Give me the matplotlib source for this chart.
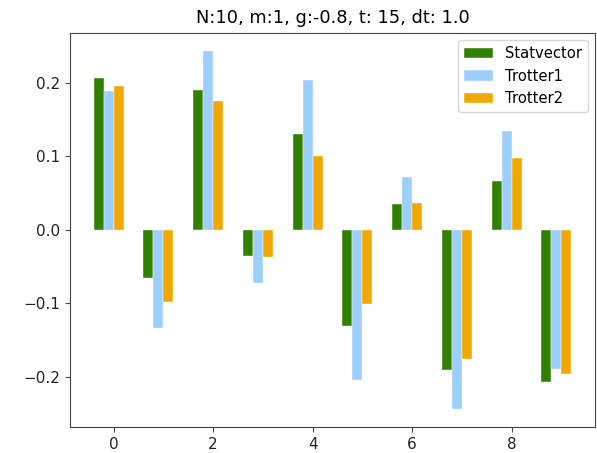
import matplotlib
matplotlib.use('Agg')
import matplotlib.pyplot as plt
import numpy as np

sites = np.arange(10)
statvector = [0.2065, -0.0663, 0.1906, -0.0355, 0.1306, -0.1314, 0.035, -0.191, 0.066, -0.2074]
trotter1 = [0.189, -0.1345, 0.2437, -0.0727, 0.204, -0.205, 0.0723, -0.2446, 0.134, -0.190]
trotter2 = [0.1965, -0.098, 0.175, -0.037, 0.100, -0.101, 0.036, -0.1755, 0.098, -0.197]

COLORS = {
    'Statvector': '#318000',
    'Trotter1': '#9dcffc',
    'Trotter2': '#f0a800',
}

width = 0.2
fig = plt.figure(figsize=(5.97, 4.53), dpi=100)
ax = fig.add_axes([0.117, 0.057, 0.880, 0.870])
ax.bar(sites - 0.3, statvector, width, color=COLORS['Statvector'],
       edgecolor='white', linewidth=0.3, label='Statvector')
ax.bar(sites - 0.1, trotter1, width, color=COLORS['Trotter1'],
       edgecolor='white', linewidth=0.3, label='Trotter1')
ax.bar(sites + 0.1, trotter2, width, color=COLORS['Trotter2'],
       edgecolor='white', linewidth=0.3, label='Trotter2')
ax.set_title('N:10, m:1, g:-0.8, t: 15, dt: 1.0', fontsize=12.8, pad=7)
ax.legend(loc='upper right', fontsize=10.6)
for s in ax.spines.values():
    s.set_color('#444444')
ax.tick_params(colors='#444444', labelcolor='#222222', labelsize=11)
fig.savefig('out.png', dpi=100)
